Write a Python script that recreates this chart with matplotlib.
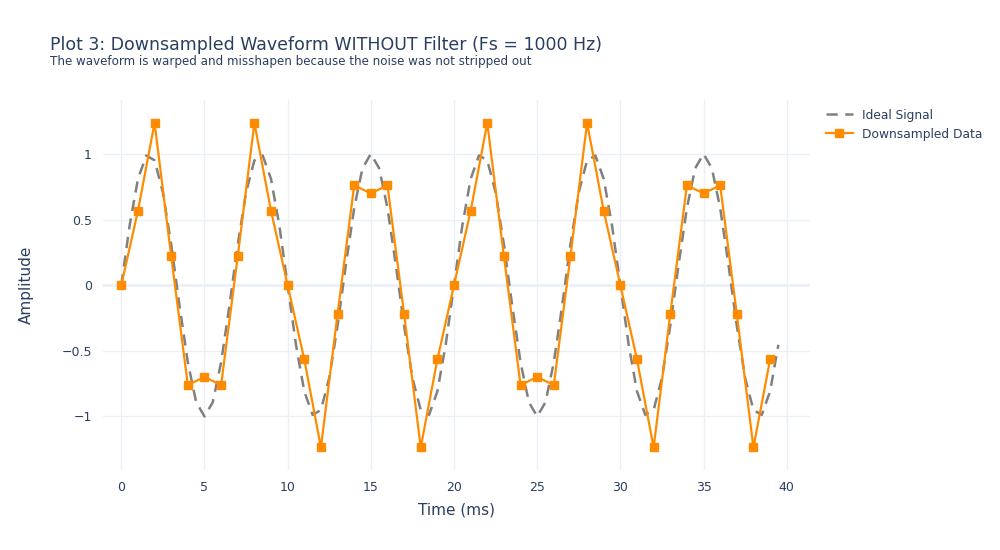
import matplotlib
matplotlib.use("Agg")
import matplotlib.pyplot as plt
import numpy as np

# ideal 150 Hz signal, read every 0.5 ms
ideal_t = np.arange(0, 40, 0.5)
ideal_period = [0, 0.454, 0.809, 0.988, 0.951, 0.707, 0.309, -0.156, -0.588, -0.891,
                -1, -0.891, -0.588, -0.156, 0.309, 0.707, 0.951, 0.988, 0.809, 0.454,
                0, -0.454, -0.809, -0.988, -0.951, -0.707, -0.309, 0.156, 0.588, 0.891,
                1, 0.891, 0.588, 0.156, -0.309, -0.707, -0.951, -0.988, -0.809, -0.454]
ideal_y = ideal_period + ideal_period

# samples at 1 ms
samp_t = np.arange(0, 40, 1)
samp_period = [0, 0.566, 1.236, 0.22, -0.76, -0.70, -0.76, 0.22, 1.236, 0.566,
               0, -0.566, -1.236, -0.22, 0.76, 0.70, 0.76, -0.22, -1.236, -0.566]
samp_y = samp_period + samp_period

TXT = "#2a3f5f"
GRID = "#ebf0f8"

fig = plt.figure(figsize=(10, 5.5), dpi=100)
ax = fig.add_axes([0.103, 0.145, 0.707, 0.673])

ax.plot(ideal_t, ideal_y, color="gray", lw=1.8, ls=(0, (4.5, 3)), label="Ideal Signal", zorder=3)
ax.plot(samp_t, samp_y, color="#ff8c00", lw=1.6, marker="s", ms=5.5, label="Downsampled Data", zorder=4)

ax.set_xlim(-1.1, 41.4)
ax.set_ylim(-1.41, 1.41)
ax.set_xticks([0, 5, 10, 15, 20, 25, 30, 35, 40])
ax.set_yticks([-1, -0.5, 0, 0.5, 1])
ax.set_yticklabels(["\u22121", "\u22120.5", "0", "0.5", "1"])
ax.grid(True, color=GRID, lw=1)
ax.axhline(0, color=GRID, lw=2, zorder=1)
ax.set_axisbelow(True)
for s in ax.spines.values():
    s.set_visible(False)
ax.tick_params(length=0, colors=TXT, labelsize=9, pad=8)

ax.set_xlabel("Time (ms)", color=TXT, fontsize=11, labelpad=6)
ax.set_ylabel("Amplitude", color=TXT, fontsize=11, labelpad=20)

fig.text(0.05, 0.918, "Plot 3: Downsampled Waveform WITHOUT Filter (Fs = 1000 Hz)",
         color=TXT, fontsize=12.5, va="center")
fig.text(0.05, 0.889, "The waveform is warped and misshapen because the noise was not stripped out",
         color=TXT, fontsize=8.6, va="center")

ax.legend(loc="upper left", bbox_to_anchor=(1.01, 1.0), frameon=False, fontsize=8.8,
          labelcolor=TXT, handlelength=2.2, borderaxespad=0.3)

fig.savefig("out.png")
